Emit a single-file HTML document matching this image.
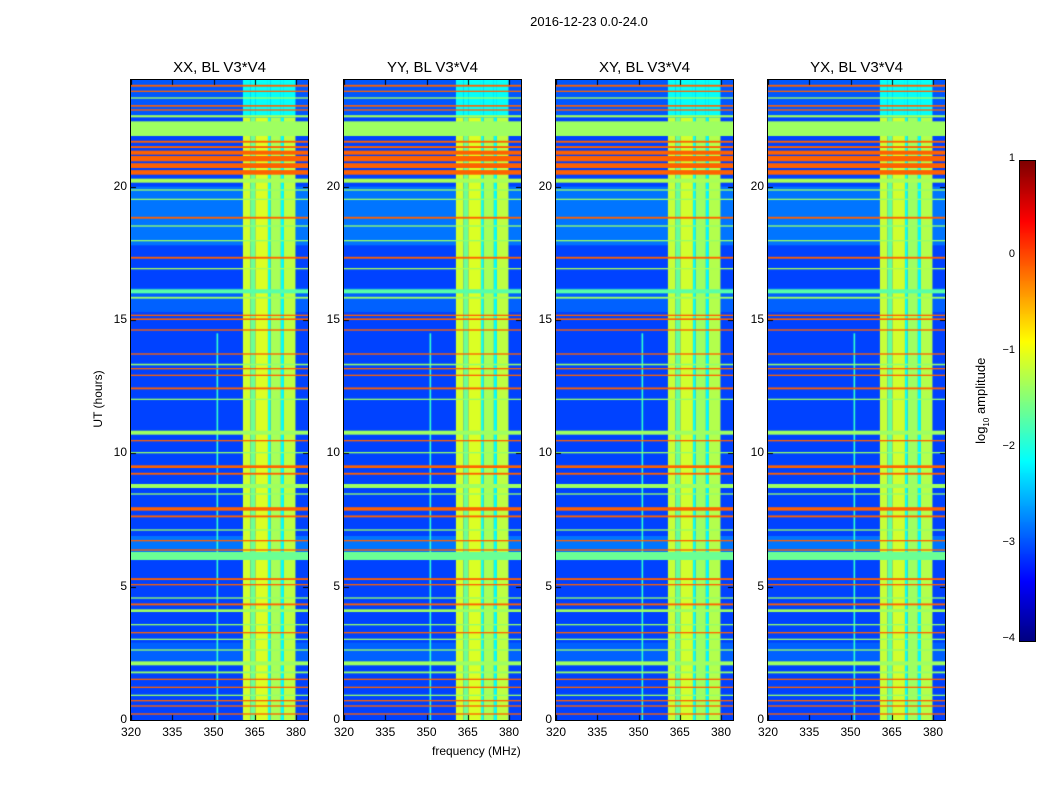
<!DOCTYPE html>
<html><head><meta charset="utf-8"><style>
body{margin:0;background:#fff;width:1050px;height:800px;overflow:hidden;position:relative;font-family:"Liberation Sans","DejaVu Sans",sans-serif;}
.t{position:absolute;color:#000;white-space:nowrap}
canvas{position:absolute}
</style></head><body>
<div class="t" style="left:0;width:1178px;top:14px;font-size:13px;text-align:center">2016-12-23 0.0-24.0</div>
<div id="root"></div>
<canvas id="cb" width="15" height="480" style="left:1019px;top:160px;border:1px solid #000"></canvas>
<div class="t" style="left:922px;top:392px;font-size:13px;transform:rotate(-90deg);width:120px;text-align:center">log<sub style="font-size:8px">10</sub> amplitude</div>
<div class="t" style="left:432px;top:744px;font-size:12px">frequency (MHz)</div>
<div class="t" style="left:48px;top:392px;font-size:12px;transform:rotate(-90deg);width:100px;text-align:center">UT (hours)</div>
<script>
// data
const panelTitles=["XX, BL V3*V4","YY, BL V3*V4","XY, BL V3*V4","YX, BL V3*V4"];
const xTicks=[320,335,350,365,380];
const yTicks=[0,5,10,15,20];
const cbTicks=[1,0,-1,-2,-3,-4];
// background regions [h0,h1,level]
const bgBands=[[0,24,-3.05],[17.8,20,-2.8],[15.3,16.2,-2.9],[6.3,6.9,-2.8],[2.2,2.9,-2.9],[22.6,24,-2.95]];
// bright frequency columns [f0,f1,level]
const brightCols=[[360.7,363.5,-1.1],[363.5,365.2,-1.6],[365.2,369.8,-1.05],[369.8,370.8,-2.0],[370.8,374.5,-1.3],[374.5,375.6,-2.1],[375.6,379.8,-1.2]];
const brightHours=[0,22.6];
const brightTopLevel=-2.1;
const spikeCols=[[351.1,351.7,-1.9]];
const spikeHours=[0,14.5];
// horizontal RFI lines [h0,h1,level]
const rfiLines=[
[23.75,23.82,-0.1],[23.55,23.6,-0.1],[23.3,23.35,-1.3],[23.0,23.06,-0.1],[22.85,22.9,-0.1],[22.6,22.68,-1.3],
[21.9,22.45,-1.35],[21.65,21.72,-0.1],[21.45,21.52,-0.1],[21.2,21.35,-0.1],[20.95,21.15,-0.1],[20.7,20.88,-0.1],[20.45,20.62,-0.1],[20.15,20.3,-1.3],
[19.85,19.9,-1.4],[19.5,19.55,-1.4],[18.8,18.87,-0.1],[18.5,18.55,-1.4],[17.95,18.0,-1.4],[17.3,17.37,-0.1],[16.9,16.95,-1.3],
[16.0,16.15,-1.7],[15.8,15.87,-1.35],[15.15,15.2,-0.1],[15.0,15.06,-0.1],[14.6,14.65,-0.1],[13.7,13.75,-0.1],[13.3,13.36,-1.4],
[13.15,13.2,-0.1],[12.9,12.95,-0.1],[12.4,12.47,-0.1],[12.0,12.05,-1.4],
[10.7,10.85,-1.35],[10.45,10.5,-0.1],[10.0,10.05,-1.4],[9.45,9.55,-0.1],[9.2,9.27,-0.1],[8.7,8.85,-1.35],[8.45,8.5,-1.4],
[7.85,7.98,-0.1],[7.6,7.67,-0.1],[7.1,7.15,-1.4],[6.7,6.75,-0.1],[6.35,6.4,-0.1],[6.0,6.3,-1.6],
[5.25,5.32,-0.1],[5.05,5.1,-0.1],[4.55,4.6,-1.4],[4.3,4.37,-0.1],[4.05,4.15,-1.35],[3.55,3.6,-1.4],[3.25,3.3,-0.1],[3.0,3.05,-1.4],[2.6,2.65,-1.4],
[2.05,2.2,-1.35],[1.75,1.82,-1.4],[1.5,1.55,-0.1],[1.2,1.25,-0.1],[0.9,0.95,-1.4],[0.7,0.75,-0.1],[0.5,0.55,-0.1],[0.2,0.25,-0.1]];
const panelLeft=[131,344,556,768];
const PW=177, PH=640, PT=80;
function jet(l){const t=Math.max(0,Math.min(1,(l+4)/5));
 const c=v=>Math.round(255*Math.max(0,Math.min(1,v)));
 return `rgb(${c(1.5-Math.abs(4*t-3))},${c(1.5-Math.abs(4*t-2))},${c(1.5-Math.abs(4*t-1))})`;}
const xs=f=>(f-320)*2.75;
const ys=h=>PH-h*PH/24;
const root=document.getElementById('root');
panelLeft.forEach((L,i)=>{
 const cv=document.createElement('canvas');
 cv.width=PW;cv.height=PH;cv.style.left=L+'px';cv.style.top=PT+'px';cv.style.outline='1px solid #000';
 
 
 root.appendChild(cv);
 const g=cv.getContext('2d');
 bgBands.forEach(b=>{g.fillStyle=jet(b[2]);g.fillRect(0,ys(b[1]),PW,ys(b[0])-ys(b[1]));});
 spikeCols.forEach(c=>{g.fillStyle=jet(c[2]);g.fillRect(xs(c[0]),ys(spikeHours[1]),xs(c[1])-xs(c[0]),ys(spikeHours[0])-ys(spikeHours[1]));});
 brightCols.forEach(c=>{g.fillStyle=jet(c[2]+(i>=2?-0.05:0));g.fillRect(xs(c[0]),ys(brightHours[1]),xs(c[1])-xs(c[0]),ys(brightHours[0])-ys(brightHours[1]));
   g.fillStyle=jet(Math.min(c[2],brightTopLevel));g.fillRect(xs(c[0]),0,xs(c[1])-xs(c[0]),ys(brightHours[1]));});
 rfiLines.forEach(b=>{g.fillStyle=jet(b[2]);g.fillRect(0,ys(b[1]),PW,Math.max(1,ys(b[0])-ys(b[1])));});
 g.fillStyle='#000';
 xTicks.forEach(v=>{g.fillRect(Math.round(xs(v)),PH-5,1,5);g.fillRect(Math.round(xs(v)),0,1,5);});
 yTicks.forEach(v=>{g.fillRect(0,Math.round(ys(v)),5,1);g.fillRect(PW-5,Math.round(ys(v)),5,1);});
 const tt=document.createElement('div');tt.className='t';
 
 
 tt.style.cssText=`left:${L}px;width:${PW}px;top:59px;font-size:15px;text-align:center`;tt.textContent=panelTitles[i];root.appendChild(tt);
 xTicks.forEach(v=>{const d=document.createElement('div');d.className='t';
  
  
  d.style.cssText=`left:${L+xs(v)-20}px;width:40px;text-align:center;top:725px;font-size:12px`;d.textContent=v;root.appendChild(d);});
 yTicks.forEach(v=>{const d=document.createElement('div');d.className='t';
  
  
  d.style.cssText=`left:${L-44}px;width:40px;text-align:right;top:${PT+ys(v)-8}px;font-size:12px`;d.textContent=v;root.appendChild(d);});
});
const cb=document.getElementById('cb').getContext('2d');
for(let y=0;y<480;y++){cb.fillStyle=jet(1-5*y/480);cb.fillRect(0,y,15,1);}
cbTicks.forEach(v=>{const d=document.createElement('div');d.className='t';
 
 
 d.style.cssText=`left:975px;width:40px;text-align:right;top:${160+(1-v)*96-8}px;font-size:11px`;d.textContent=v<0?'\u2212'+(-v):v;root.appendChild(d);});
</script>
</body></html>
